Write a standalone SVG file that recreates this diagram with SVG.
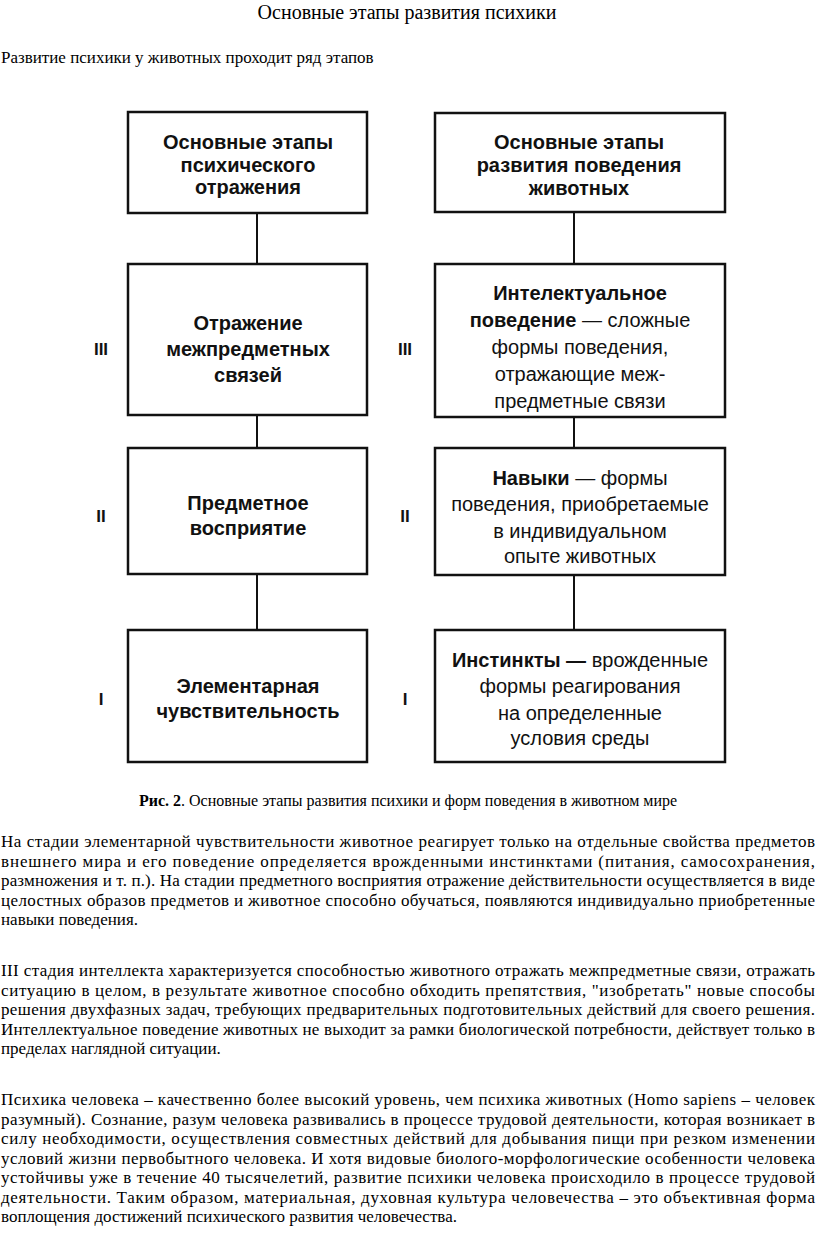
<svg xmlns="http://www.w3.org/2000/svg" width="816" height="1252" viewBox="0 0 816 1252">
<style>
.bg{fill:#fff}
.box{fill:#fff;stroke:#111;stroke-width:2.5}
.con{stroke:#111;stroke-width:2;fill:none}
.bt{font-family:"Liberation Sans",Arial,sans-serif;font-size:20px;fill:#111;text-anchor:middle}
.b{font-weight:bold}
.num{font-family:"Liberation Sans",Arial,sans-serif;font-size:17px;font-weight:bold;fill:#111;text-anchor:middle}
.serif{font-family:"Liberation Serif","Times New Roman",serif;fill:#000}
.body{font-family:"Liberation Serif","Times New Roman",serif;font-size:17px;fill:#000}
</style>
<rect class="bg" x="0" y="0" width="816" height="1252"/>
<text class="serif" x="407" y="19" font-size="20" text-anchor="middle">Основные этапы развития психики</text>
<text class="serif" x="1" y="63" font-size="17">Развитие психики у животных проходит ряд этапов</text>

<g id="connectors">
<line class="con" x1="257" y1="213" x2="257" y2="264"/>
<line class="con" x1="257" y1="415" x2="257" y2="448"/>
<line class="con" x1="257" y1="574" x2="257" y2="630"/>
<line class="con" x1="574" y1="212" x2="574" y2="264"/>
<line class="con" x1="574" y1="417" x2="574" y2="448"/>
<line class="con" x1="574" y1="575" x2="574" y2="630"/>
</g>

<g id="left-head">
<rect class="box" x="128" y="112" width="239" height="101"/>
<text class="bt b" x="248" y="149">Основные этапы</text>
<text class="bt b" x="248" y="171.5">психического</text>
<text class="bt b" x="248" y="194">отражения</text>
</g>
<g id="left-3">
<rect class="box" x="128" y="264" width="239" height="151"/>
<text class="bt b" x="248" y="330">Отражение</text>
<text class="bt b" x="248" y="356">межпредметных</text>
<text class="bt b" x="248" y="382">связей</text>
</g>
<g id="left-2">
<rect class="box" x="128" y="448" width="239" height="126"/>
<text class="bt b" x="248" y="510">Предметное</text>
<text class="bt b" x="248" y="535">восприятие</text>
</g>
<g id="left-1">
<rect class="box" x="128" y="630" width="239" height="132"/>
<text class="bt b" x="248" y="693">Элементарная</text>
<text class="bt b" x="248" y="718">чувствительность</text>
</g>

<g id="right-head">
<rect class="box" x="435" y="113" width="290" height="99"/>
<text class="bt b" x="579" y="149">Основные этапы</text>
<text class="bt b" x="579" y="172">развития поведения</text>
<text class="bt b" x="579" y="195">животных</text>
</g>
<g id="right-3">
<rect class="box" x="435" y="264" width="290" height="153"/>
<text class="bt b" x="580" y="300">Интелектуальное</text>
<text class="bt" x="580" y="327"><tspan class="b">поведение</tspan> — сложные</text>
<text class="bt" x="580" y="354">формы поведения,</text>
<text class="bt" x="580" y="381">отражающие меж-</text>
<text class="bt" x="580" y="408">предметные связи</text>
</g>
<g id="right-2">
<rect class="box" x="435" y="448" width="290" height="127"/>
<text class="bt" x="580" y="485"><tspan class="b">Навыки</tspan> — формы</text>
<text class="bt" x="580" y="511">поведения, приобретаемые</text>
<text class="bt" x="580" y="538">в индивидуальном</text>
<text class="bt" x="580" y="563">опыте животных</text>
</g>
<g id="right-1">
<rect class="box" x="435" y="630" width="290" height="132"/>
<text class="bt" x="580" y="667"><tspan class="b">Инстинкты —</tspan> врожденные</text>
<text class="bt" x="580" y="693">формы реагирования</text>
<text class="bt" x="580" y="720">на определенные</text>
<text class="bt" x="580" y="745">условия среды</text>
</g>

<g id="levels">
<text class="num" x="101" y="355">III</text>
<text class="num" x="405" y="355">III</text>
<text class="num" x="101" y="522">II</text>
<text class="num" x="405" y="522">II</text>
<text class="num" x="101" y="705">I</text>
<text class="num" x="405" y="705">I</text>
</g>

<text class="serif" x="408" y="806" font-size="16" text-anchor="middle"><tspan font-weight="bold">Рис. 2</tspan>. Основные этапы развития психики и форм поведения в животном мире</text>

<g id="para1" class="body">
<text x="1" y="847" textLength="814" lengthAdjust="spacing">На стадии элементарной чувствительности животное реагирует только на отдельные свойства предметов</text>
<text x="1" y="866.5" textLength="814" lengthAdjust="spacing">внешнего мира и его поведение определяется врожденными инстинктами (питания, самосохранения,</text>
<text x="1" y="886" textLength="814" lengthAdjust="spacing">размножения и т. п.). На стадии предметного восприятия отражение действительности осуществляется в виде</text>
<text x="1" y="905.5" textLength="814" lengthAdjust="spacing">целостных образов предметов и животное способно обучаться, появляются индивидуально приобретенные</text>
<text x="1" y="925">навыки поведения.</text>
</g>
<g id="para2" class="body">
<text x="1" y="976" textLength="814" lengthAdjust="spacing">III стадия интеллекта характеризуется способностью животного отражать межпредметные связи, отражать</text>
<text x="1" y="995.5" textLength="814" lengthAdjust="spacing">ситуацию в целом, в результате животное способно обходить препятствия, "изобретать" новые способы</text>
<text x="1" y="1015" textLength="814" lengthAdjust="spacing">решения двухфазных задач, требующих предварительных подготовительных действий для своего решения.</text>
<text x="1" y="1034.5" textLength="814" lengthAdjust="spacing">Интеллектуальное поведение животных не выходит за рамки биологической потребности, действует только в</text>
<text x="1" y="1054">пределах наглядной ситуации.</text>
</g>
<g id="para3" class="body">
<text x="1" y="1105" textLength="814" lengthAdjust="spacing">Психика человека – качественно более высокий уровень, чем психика животных (Homo sapiens – человек</text>
<text x="1" y="1124.5" textLength="814" lengthAdjust="spacing">разумный). Сознание, разум человека развивались в процессе трудовой деятельности, которая возникает в</text>
<text x="1" y="1144" textLength="814" lengthAdjust="spacing">силу необходимости, осуществления совместных действий для добывания пищи при резком изменении</text>
<text x="1" y="1163.5" textLength="814" lengthAdjust="spacing">условий жизни первобытного человека. И хотя видовые биолого-морфологические особенности человека</text>
<text x="1" y="1183" textLength="814" lengthAdjust="spacing">устойчивы уже в течение 40 тысячелетий, развитие психики человека происходило в процессе трудовой</text>
<text x="1" y="1202.5" textLength="814" lengthAdjust="spacing">деятельности. Таким образом, материальная, духовная культура человечества – это объективная форма</text>
<text x="1" y="1222">воплощения достижений психического развития человечества.</text>
</g>
</svg>
